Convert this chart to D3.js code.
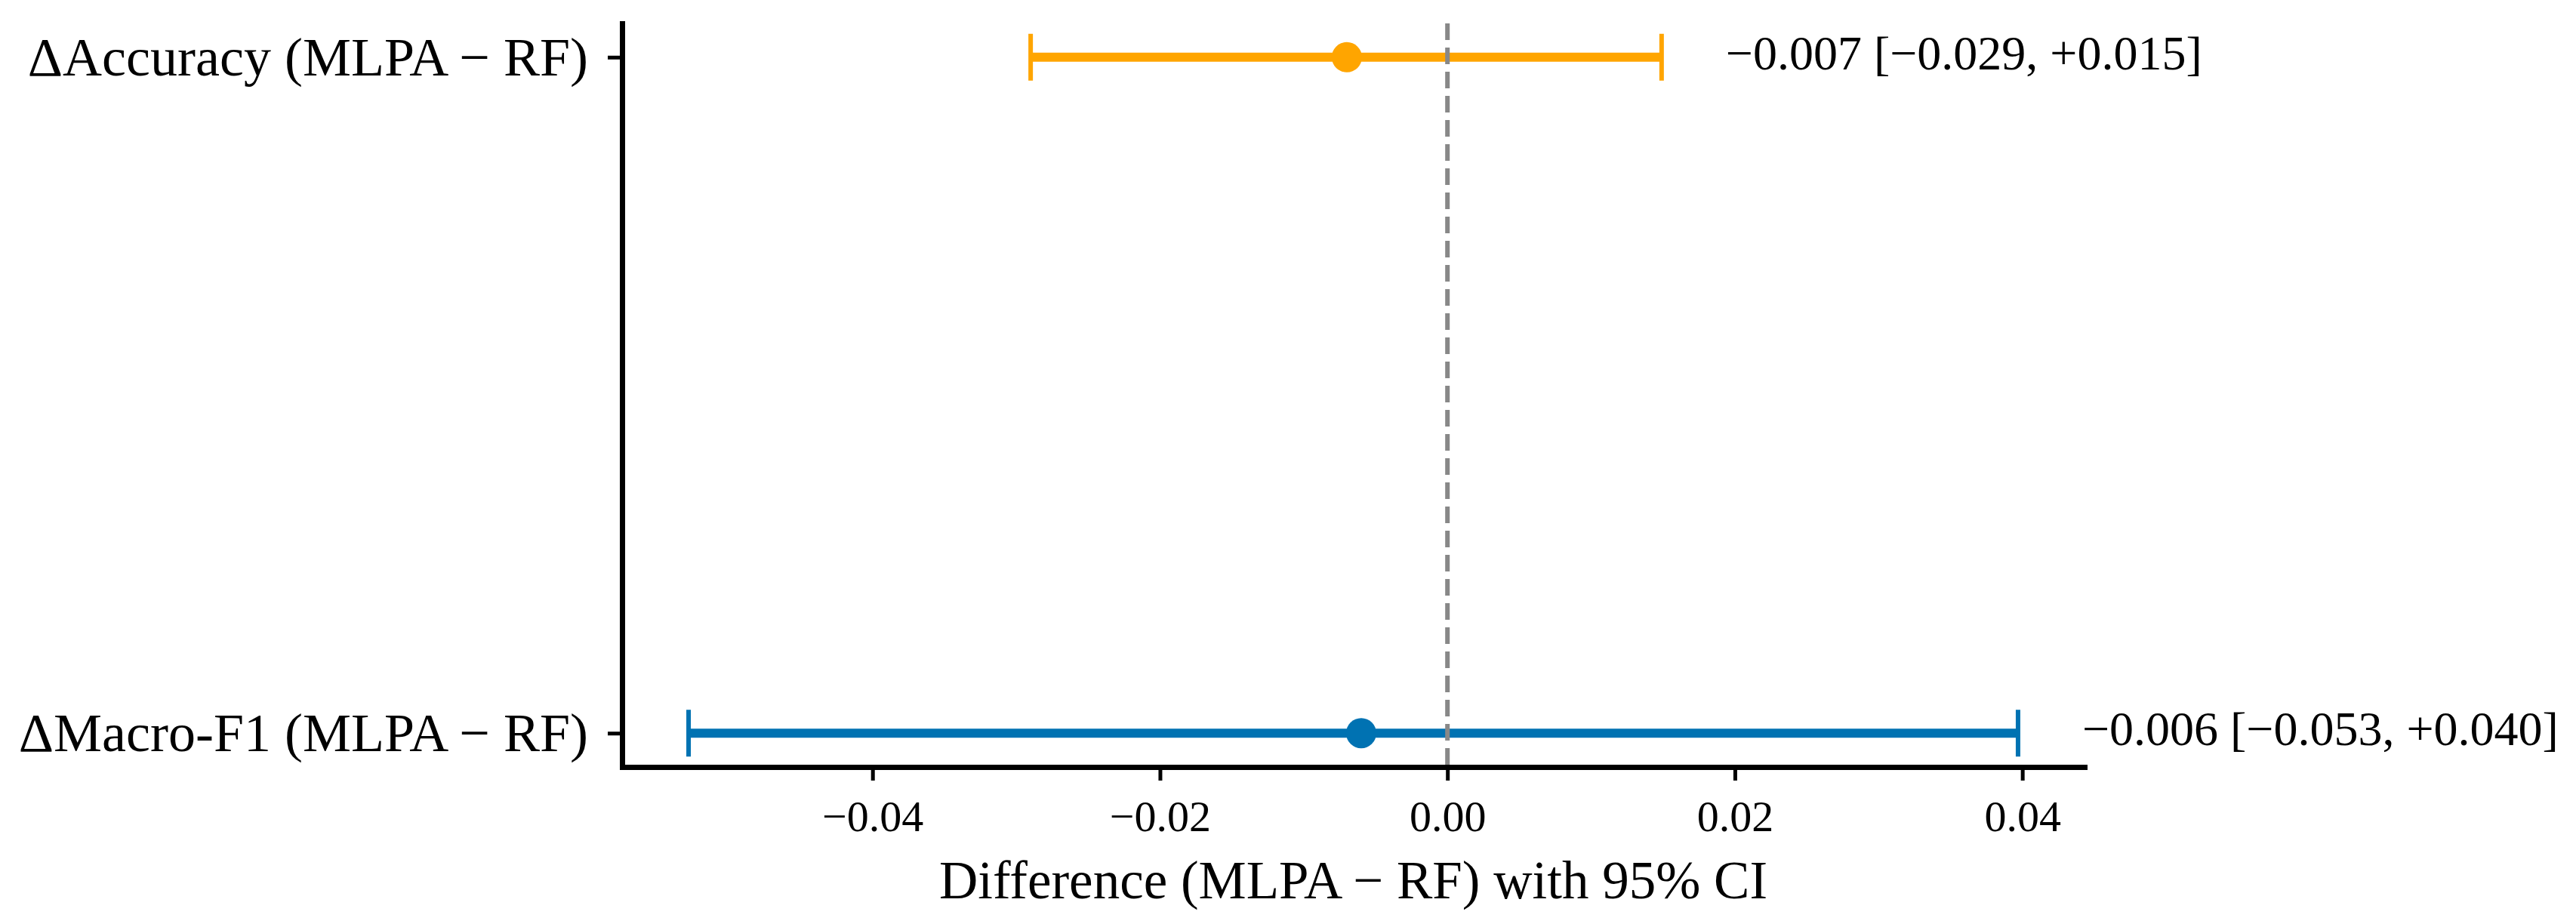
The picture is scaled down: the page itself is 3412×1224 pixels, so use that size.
<!DOCTYPE html>
<html>
<head>
<meta charset="utf-8">
<script src="https://cdn.jsdelivr.net/npm/d3@7"></script>
<style>
    body { margin: 0; background: #ffffff; }
    text { font-family: "Liberation Serif", "Times New Roman", serif; fill: #000000; }
</style>
</head>
<body>
<div id="chart"></div>
<script>

// metrics, top to bottom
var metrics = ["ΔAccuracy (MLPA − RF)", "ΔMacro-F1 (MLPA − RF)"];
var estimates = [-0.0070, -0.0060];
var ci_low = [-0.0290, -0.0528];
var ci_high = [0.0149, 0.0397];
var colors = ["#FFA500", "#0072B2"];
var x_ticks = [-0.04, -0.02, 0.00, 0.02, 0.04];
var x_label = "Difference (MLPA − RF) with 95% CI";

var input = metrics.map(function (m, i) {
    return { metric: m, est: estimates[i], lo: ci_low[i], hi: ci_high[i], color: colors[i] };
});

const width = 3412,
    height = 1224;

const plot = { left: 824, right: 2761, top: 31, bottom: 1016 };

const svg = d3.select("#chart")
    .append("svg")
    .attr("width", width)
    .attr("height", height);

svg.append("rect")
    .attr("width", width)
    .attr("height", height)
    .style("fill", "#ffffff");

// matplotlib style 5% margins around the CI extents
var lo_all = d3.min(input, function (d) { return d.lo; }),
    hi_all = d3.max(input, function (d) { return d.hi; }),
    pad = (hi_all - lo_all) * 0.05;

var xScale = d3.scaleLinear()
    .domain([lo_all - pad, hi_all + pad])
    .range([plot.left, plot.right]);

var yScale = d3.scalePoint()
    .domain(metrics)
    .range([plot.top, plot.bottom])
    .padding(0.05);

// x axis
var xAxis = svg.append("g")
    .attr("class", "x-axis")
    .attr("transform", "translate(0," + plot.bottom + ")")
    .call(d3.axisBottom(xScale)
        .tickValues(x_ticks)
        .tickFormat(d3.format(".2f"))
        .tickSizeInner(18)
        .tickSizeOuter(0)
        .tickPadding(26));

xAxis.select(".domain")
    .style("stroke", "#000")
    .style("stroke-width", "7px")
    .style("stroke-linecap", "square");

xAxis.selectAll(".tick line")
    .style("stroke", "#000")
    .style("stroke-width", "5px");

xAxis.selectAll(".tick text")
    .style("font-size", "58px");

// y axis
var yAxis = svg.append("g")
    .attr("class", "y-axis")
    .attr("transform", "translate(" + plot.left + ",0)")
    .call(d3.axisLeft(yScale)
        .tickSizeInner(19)
        .tickSizeOuter(0)
        .tickPadding(26));

yAxis.select(".domain")
    .style("stroke", "#000")
    .style("stroke-width", "7px")
    .style("stroke-linecap", "square");

yAxis.selectAll(".tick line")
    .style("stroke", "#000")
    .style("stroke-width", "5px");

yAxis.selectAll(".tick text")
    .attr("dy", "0.33em")
    .style("font-size", "72px");

svg.append("text")
    .attr("class", "x-axis-label")
    .attr("x", (plot.left + plot.right) / 2)
    .attr("y", 1190)
    .attr("text-anchor", "middle")
    .style("font-size", "71px")
    .text(x_label);

// error bars
var rows = svg.selectAll("g.row")
    .data(input)
    .enter()
    .append("g")
    .attr("class", "row");

rows.append("line")
    .attr("x1", function (d) { return xScale(d.lo); })
    .attr("x2", function (d) { return xScale(d.hi); })
    .attr("y1", function (d) { return yScale(d.metric); })
    .attr("y2", function (d) { return yScale(d.metric); })
    .style("stroke", function (d) { return d.color; })
    .style("stroke-width", "12px");

rows.selectAll("line.cap")
    .data(function (d) { return [{ v: d.lo, d: d }, { v: d.hi, d: d }]; })
    .enter()
    .append("line")
    .attr("class", "cap")
    .attr("x1", function (c) { return xScale(c.v); })
    .attr("x2", function (c) { return xScale(c.v); })
    .attr("y1", function (c) { return yScale(c.d.metric) - 31; })
    .attr("y2", function (c) { return yScale(c.d.metric) + 31; })
    .style("stroke", function (c) { return c.d.color; })
    .style("stroke-width", "6px");

rows.append("circle")
    .attr("cx", function (d) { return xScale(d.est); })
    .attr("cy", function (d) { return yScale(d.metric); })
    .attr("r", 20)
    .style("fill", function (d) { return d.color; });

var fmt = d3.format("+.3f");
var fmt_est = d3.format(".3f");

rows.append("text")
    .attr("x", function (d) { return xScale(d.hi) + 85; })
    .attr("y", function (d) { return yScale(d.metric) + 16; })
    .style("font-size", "64px")
    .text(function (d) {
        return fmt_est(d.est) + " [" + fmt_est(d.lo) + ", " + fmt(d.hi) + "]";
    });

// zero reference line, on top of the bars
svg.append("line")
    .attr("x1", xScale(0))
    .attr("x2", xScale(0))
    .attr("y1", plot.top)
    .attr("y2", plot.bottom)
    .style("stroke", "#888888")
    .style("stroke-width", "6px")
    .style("stroke-dasharray", "22,10");

</script>
</body>
</html>
